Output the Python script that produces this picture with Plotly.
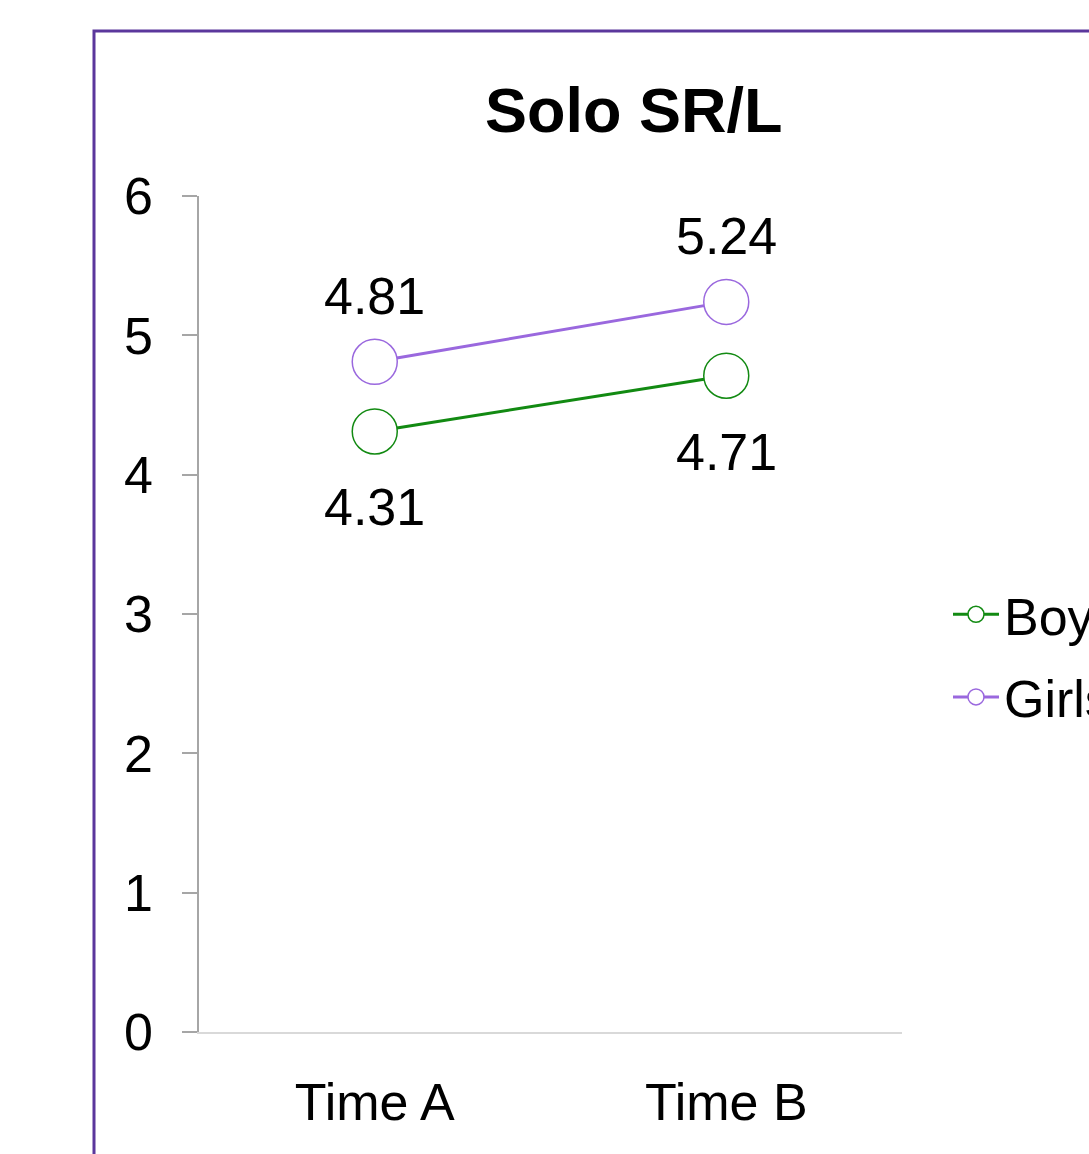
import plotly.graph_objects as go

categories = ["Time A", "Time B"]
boys = [4.31, 4.71]
girls = [4.81, 5.24]
y_ticks = [0, 1, 2, 3, 4, 5, 6]

GREEN = "#128a12"
PURPLE = "#9a68de"
FONT = "Liberation Sans, Arial, sans-serif"

fig = go.Figure()
fig.add_trace(go.Scatter(
    x=categories, y=boys, name="Boys", mode="lines+markers", legendgroup="boys",
    line=dict(color=GREEN, width=3),
    marker=dict(symbol="circle", size=45, color="white", line=dict(color=GREEN, width=1.5)),
))
fig.add_trace(go.Scatter(
    x=categories, y=girls, name="Girls", mode="lines+markers", legendgroup="girls",
    line=dict(color=PURPLE, width=3),
    marker=dict(symbol="circle", size=45, color="white", line=dict(color=PURPLE, width=1.5)),
))

annotations = []
for c, v in zip(categories, girls):
    annotations.append(dict(x=c, y=v, text=f"{v:.2f}", showarrow=False, yshift=66,
                            font=dict(family=FONT, size=52, color="black")))
for c, v in zip(categories, boys):
    annotations.append(dict(x=c, y=v, text=f"{v:.2f}", showarrow=False, yshift=-76,
                            font=dict(family=FONT, size=52, color="black")))
annotations.append(dict(x=(634 - 199) / 703, y=(1032 - 110) / 836, xref="paper", yref="paper",
                        text="<b>Solo SR/L</b>", showarrow=False, xanchor="center", yanchor="middle",
                        font=dict(family=FONT, size=63, color="black")))

fig.update_layout(
    width=1089, height=1154,
    margin=dict(l=199, r=187, t=196, b=122, pad=0, autoexpand=False),
    paper_bgcolor="white", plot_bgcolor="white",
    font=dict(family=FONT, size=52, color="black"),
    showlegend=True,
    legend=dict(xref="container", yref="container", x=948 / 1089, y=1 - 656 / 1154,
                xanchor="left", yanchor="middle", itemwidth=46,
                font=dict(family=FONT, size=52, color="black"),
                bgcolor="rgba(0,0,0,0)", tracegroupgap=12),
    annotations=annotations,
    shapes=[dict(type="rect", xref="paper", yref="paper",
                 x0=(94 - 199) / 703, x1=1.6, y0=-0.3, y1=(1032 - 31) / 836,
                 line=dict(color="#5b379c", width=3), fillcolor="rgba(0,0,0,0)", layer="below")],
)
fig.update_xaxes(
    type="category", range=[-0.5, 1.5], showgrid=False, zeroline=False,
    showline=True, linecolor="#d9d9d9", linewidth=2, ticks="",
    tickfont=dict(family=FONT, size=52, color="black"), ticklabelstandoff=24,
)
fig.update_yaxes(
    range=[0, 6], tickvals=y_ticks, showgrid=False, zeroline=False,
    showline=True, linecolor="#a6a6a6", linewidth=1.5,
    ticks="outside", ticklen=15, tickcolor="#a6a6a6", tickwidth=1.5,
    tickfont=dict(family=FONT, size=52, color="black"), ticklabelstandoff=19,
)

fig.write_html("out.html", config={"displayModeBar": False},
               post_script="document.body.style.margin='0';document.body.style.overflow='hidden';")
